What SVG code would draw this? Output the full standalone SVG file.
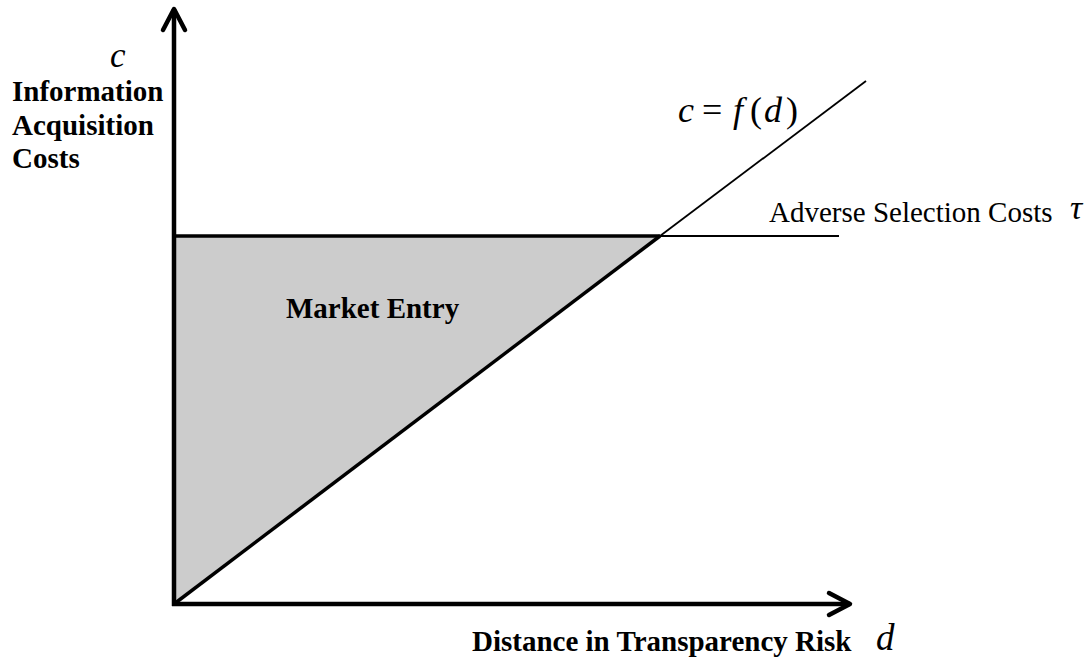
<svg xmlns="http://www.w3.org/2000/svg" width="1090" height="660" viewBox="0 0 1090 660">
<defs>
<style>
.bold{font-family:"Liberation Serif","Times New Roman",serif;font-weight:bold;font-size:29px;fill:#000}
.reg{font-family:"Liberation Serif","Times New Roman",serif;font-size:29px;fill:#000}
.math{font-family:"Liberation Serif","Times New Roman",serif;font-style:italic;fill:#000}
.axis{stroke:#000;stroke-width:4.5;fill:none}
.thick{stroke:#000;stroke-width:3.5;fill:none}
.thin{stroke:#000;stroke-width:1.8;fill:none}
</style>
<marker id="chev" markerUnits="userSpaceOnUse" viewBox="-30 -16 36 32" refX="0" refY="0" markerWidth="36" markerHeight="32" orient="auto" overflow="visible">
<path d="M-21,-11 L0,0 L-21,11" fill="none" stroke="#000" stroke-width="4.5" stroke-linecap="round" stroke-linejoin="round"/>
</marker>
</defs>
<rect width="1090" height="660" fill="#fff"/>
<g id="market-entry-region">
<polygon points="174,236 660,236 174,604" fill="#cccccc"/>
<text class="bold" x="286" y="318">Market Entry</text>
</g>
<g id="connectors">
<line class="thin" x1="660" y1="236" x2="839" y2="236"/>
<line class="thin" x1="660" y1="236" x2="866" y2="81"/>
<line class="thick" x1="174" y1="236" x2="660" y2="236"/>
<line class="thick" x1="174" y1="604" x2="660" y2="236"/>
<line class="axis" x1="174" y1="606" x2="174" y2="9" marker-end="url(#chev)"/>
<line class="axis" x1="172" y1="604" x2="850" y2="604" marker-end="url(#chev)"/>
</g>
<g id="y-axis-label">
<text class="math" x="110" y="67" font-size="35">c</text>
<text class="bold" x="12" y="101">Information</text>
<text class="bold" x="12" y="135">Acquisition</text>
<text class="bold" x="12" y="168">Costs</text>
</g>
<g id="x-axis-label">
<text class="bold" x="472" y="651">Distance in Transparency Risk</text>
<text class="math" x="876" y="650" font-size="37">d</text>
</g>
<g id="curve-label">
<text class="math" y="122" font-size="36"><tspan x="678">c</tspan><tspan x="702" font-style="normal">=</tspan><tspan x="733">f</tspan><tspan x="750" font-style="normal">(</tspan><tspan x="764">d</tspan><tspan x="786" font-style="normal">)</tspan></text>
</g>
<g id="threshold-label">
<text class="reg" x="769" y="222">Adverse Selection Costs</text>
<text class="math" x="1070" y="219" font-size="34">τ</text>
</g>
</svg>
